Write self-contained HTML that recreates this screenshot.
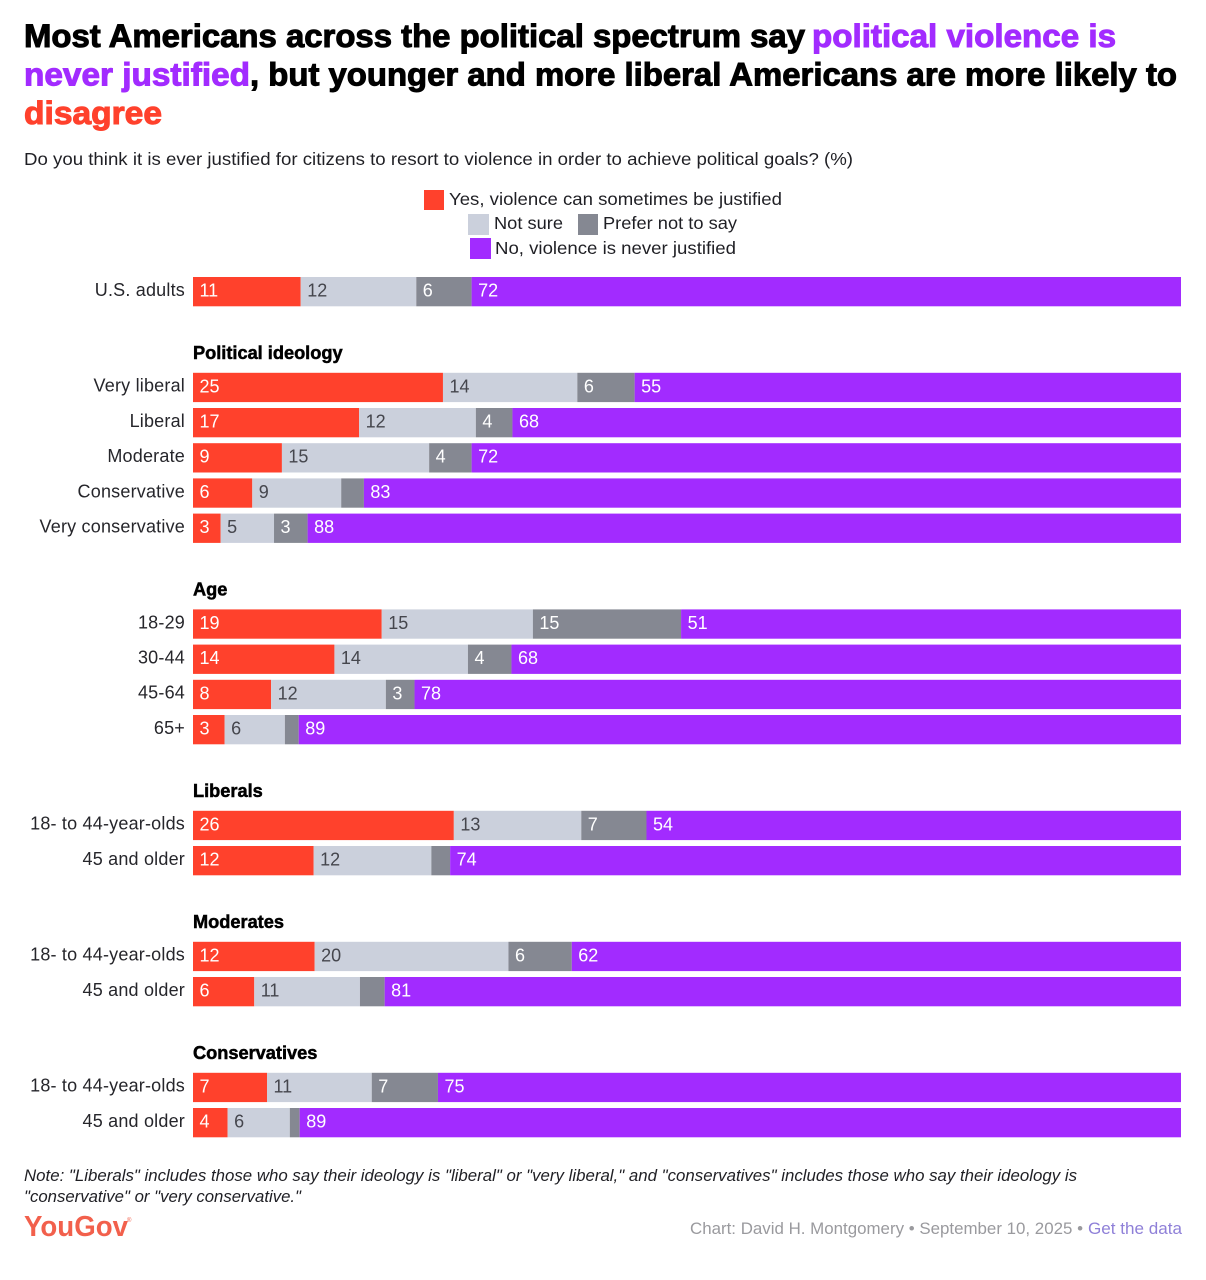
<!DOCTYPE html>
<html lang="en">
<head>
<meta charset="utf-8">
<title>Political violence chart</title>
<style>
  html, body { margin: 0; padding: 0; background: #fff; }
  #chart-root { display: block; width: 1206px; height: 1280px; }
  text { font-family: "Liberation Sans", sans-serif; }
  .title { font-size: 32px; font-weight: 700; stroke-width: 1px; paint-order: stroke; }
  .body-text { font-size: 17.5px; fill: #1f1f24; }
  .cat-label { font-size: 18px; fill: #26262b; text-anchor: end; letter-spacing: 0.2px; }
  .group-label { font-size: 18.2px; font-weight: 700; fill: #000; stroke: #000; stroke-width: 0.5px; }
  .val-label { font-size: 18px; }
</style>
</head>
<body>
<svg id="chart-root" xmlns="http://www.w3.org/2000/svg" width="1206" height="1280" viewBox="0 0 1206 1280">
  <rect x="0" y="0" width="1206" height="1280" fill="#ffffff"/>

  <g>
    <text class="title" x="24" y="47" fill="#000" stroke="#000" textLength="781" lengthAdjust="spacingAndGlyphs">Most Americans across the political spectrum say</text>
    <text class="title" x="812" y="47" fill="#a22bff" stroke="#a22bff" textLength="304" lengthAdjust="spacingAndGlyphs">political violence is</text>
    <text class="title" x="24" y="85.5" fill="#a22bff" stroke="#a22bff" textLength="226" lengthAdjust="spacingAndGlyphs">never justified</text>
    <text class="title" x="250" y="85.5" fill="#000" stroke="#000" textLength="927" lengthAdjust="spacingAndGlyphs">, but younger and more liberal Americans are more likely to</text>
    <text class="title" x="24" y="124" fill="#ff412c" stroke="#ff412c" textLength="138" lengthAdjust="spacingAndGlyphs">disagree</text>
  </g>

  <text class="body-text" x="24" y="165" textLength="829" lengthAdjust="spacingAndGlyphs">Do you think it is ever justified for citizens to resort to violence in order to achieve political goals? (%)</text>

  <g>
    <g>
      <rect x="424" y="190" width="20" height="20" fill="#ff412c"/>
      <text class="body-text" x="449" y="205" textLength="333" lengthAdjust="spacingAndGlyphs">Yes, violence can sometimes be justified</text>
    </g>
    <g>
      <rect x="468" y="214" width="21" height="21" fill="#cbd0dc"/>
      <text class="body-text" x="494" y="229" textLength="69" lengthAdjust="spacingAndGlyphs">Not sure</text>
    </g>
    <g>
      <rect x="578" y="214" width="20" height="21" fill="#858892"/>
      <text class="body-text" x="603" y="229" textLength="134" lengthAdjust="spacingAndGlyphs">Prefer not to say</text>
    </g>
    <g>
      <rect x="470" y="238" width="21" height="21" fill="#a22bff"/>
      <text class="body-text" x="495" y="254" textLength="241" lengthAdjust="spacingAndGlyphs">No, violence is never justified</text>
    </g>
  </g>

  <g id="plot"></g>

  <g>
    <text x="24" y="1181" font-size="16.5" font-style="italic" fill="#1f1f24" textLength="1053" lengthAdjust="spacingAndGlyphs">Note: "Liberals" includes those who say their ideology is "liberal" or "very liberal," and "conservatives" includes those who say their ideology is</text>
    <text x="24" y="1202" font-size="16.5" font-style="italic" fill="#1f1f24" textLength="277" lengthAdjust="spacingAndGlyphs">"conservative" or "very conservative."</text>
  </g>

  <text x="24" y="1236" font-size="29" font-weight="700" fill="#f2604c" textLength="104" lengthAdjust="spacingAndGlyphs">YouGov</text>
  <text x="127" y="1222" font-size="6" fill="#f2604c">®</text>

  <text x="690" y="1234" font-size="16.5" fill="#9a9a9e" textLength="393" lengthAdjust="spacingAndGlyphs">Chart: David H. Montgomery • September 10, 2025 •</text>
  <text x="1088" y="1234" font-size="16.5" fill="#8f80d8" textLength="94" lengthAdjust="spacingAndGlyphs">Get the data</text>
</svg>

<script>
const categories = ["U.S. adults", "Very liberal", "Liberal", "Moderate", "Conservative", "Very conservative", "18-29", "30-44", "45-64", "65+", "18- to 44-year-olds", "45 and older", "18- to 44-year-olds", "45 and older", "18- to 44-year-olds", "45 and older"];
const rowGroups = ["", "Political ideology", "Political ideology", "Political ideology", "Political ideology", "Political ideology", "Age", "Age", "Age", "Age", "Liberals", "Liberals", "Moderates", "Moderates", "Conservatives", "Conservatives"];
const yesValues = [10.9, 25.3, 16.8, 9.0, 6.0, 2.8, 19.1, 14.3, 7.9, 3.2, 26.4, 12.2, 12.3, 6.2, 7.49, 3.5];
const notSureValues = [11.7, 13.6, 11.8, 14.9, 9.0, 5.4, 15.3, 13.5, 11.6, 6.1, 12.9, 11.9, 19.6, 10.7, 10.6, 6.3];
const preferNotValues = [5.6, 5.8, 3.7, 4.3, 2.3, 3.4, 15.0, 4.4, 2.9, 1.4, 6.6, 1.9, 6.4, 2.5, 6.7, 1.0];
const noValues = [71.8, 55.3, 67.6, 71.8, 82.7, 88.4, 50.6, 67.7, 77.5, 89.3, 54.1, 73.9, 61.6, 80.6, 75.2, 89.2];
const seriesNames = ["yes", "not-sure", "prefer-not", "no"];
const seriesFills = ["#ff412c", "#cbd0dc", "#858892", "#a22bff"];
const seriesTextFills = ["#ffffff", "#45464d", "#ffffff", "#ffffff"];

const SVG_NS = "http://www.w3.org/2000/svg";
const plot = document.getElementById("plot");
const PLOT_LEFT = 193;
const PLOT_RIGHT = 1181;
const PLOT_TOP = 277;
const ROW_STEP = 35.2;
const GROUP_GAP = 60.6;
const BAR_HEIGHT = 29.3;
const MIN_LABELED_VALUE = 2.6;

function xScale(value, total) {
  return PLOT_LEFT + (value / total) * (PLOT_RIGHT - PLOT_LEFT);
}

function rowPositions() {
  const positions = [];
  let y = PLOT_TOP;
  for (let i = 0; i < categories.length; i++) {
    if (i > 0) {
      y += ROW_STEP;
      if (rowGroups[i] !== rowGroups[i - 1]) y += GROUP_GAP;
    }
    positions.push(y);
  }
  return positions;
}

const rowY = rowPositions();
const seriesValues = [yesValues, notSureValues, preferNotValues, noValues];

categories.forEach(function (category, i) {
  const top = rowY[i];

  if (rowGroups[i] && rowGroups[i] !== rowGroups[i - 1]) {
    const header = document.createElementNS(SVG_NS, "text");
    
    
    header.setAttribute("class", "group-label");
    header.setAttribute("x", PLOT_LEFT);
    header.setAttribute("y", top - 14);
    header.textContent = rowGroups[i];
    plot.appendChild(header);
  }

  const row = document.createElementNS(SVG_NS, "g");
  
  
  plot.appendChild(row);

  const label = document.createElementNS(SVG_NS, "text");
  
  
  label.setAttribute("class", "cat-label");
  label.setAttribute("x", PLOT_LEFT - 8);
  label.setAttribute("y", top + BAR_HEIGHT / 2 + 4.2);
  label.textContent = category;
  row.appendChild(label);

  const total = seriesValues.reduce(function (sum, s) { return sum + s[i]; }, 0);
  let cumulative = 0;
  seriesValues.forEach(function (values, s) {
    const value = values[i];
    const x0 = xScale(cumulative, total);
    const x1 = xScale(cumulative + value, total);

    const bar = document.createElementNS(SVG_NS, "rect");
    
    
    bar.setAttribute("x", x0);
    bar.setAttribute("y", top);
    bar.setAttribute("width", x1 - x0);
    bar.setAttribute("height", BAR_HEIGHT);
    bar.setAttribute("fill", seriesFills[s]);
    row.appendChild(bar);

    if (value >= MIN_LABELED_VALUE) {
      const valueText = document.createElementNS(SVG_NS, "text");
      
      
      valueText.setAttribute("class", "val-label");
      valueText.setAttribute("x", x0 + 6.5);
      valueText.setAttribute("y", top + BAR_HEIGHT / 2 + 4.8);
      valueText.setAttribute("fill", seriesTextFills[s]);
      valueText.textContent = String(Math.round(value));
      row.appendChild(valueText);
    }
    cumulative += value;
  });
});
</script>
</body>
</html>
